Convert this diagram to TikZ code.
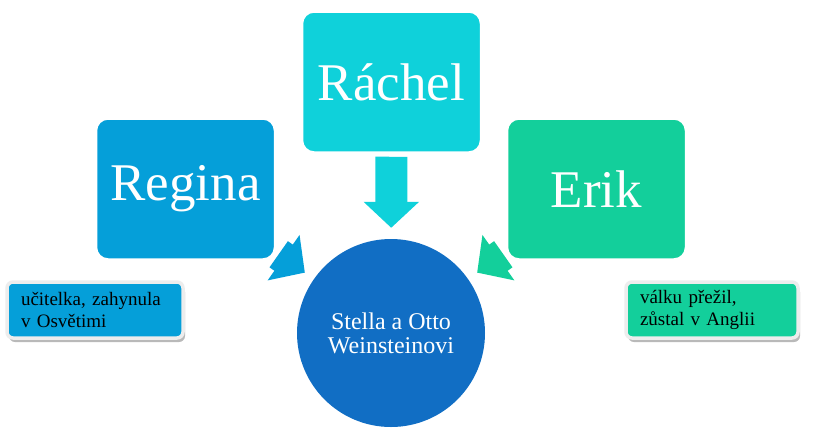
\documentclass[tikz,border=0pt]{standalone}
\usepackage{fontspec}
\setmainfont{Liberation Serif}
\usetikzlibrary{arrows.meta,shadows}
\definecolor{reginacol}{HTML}{059FD9}
\definecolor{rachelcol}{HTML}{0FD1DA}
\definecolor{erikcol}{HTML}{13CF9B}
\definecolor{stellacol}{HTML}{116EC4}
\pgfdeclarelayer{background}
\pgfsetlayers{background,main}
\tikzset {
  namebox/.style={rectangle, rounded corners=12pt, draw=white, line width=2.5pt,
    minimum width=179pt, minimum height=141pt, text=white,
    font=\fontsize{53}{53}\selectfont},
  notebox/.style={rectangle, rounded corners=6pt, draw=black!7, line width=3.5pt,
    minimum height=56pt, inner xsep=14pt, inner ysep=0pt, align=left,
    font=\fontsize{19}{22}\selectfont,
    drop shadow={shadow xshift=2pt, shadow yshift=-4pt, fill=gray!55, opacity=1}},
  blockarrow/.style={line width=32pt, -{Triangle[width=54pt,length=26pt]},
    shorten >=11pt, shorten <=3pt},
}

\begin{document}
\begin{tikzpicture}[x=1pt,y=-1pt]
  \useasboundingbox (0,0) rectangle (833,429);

  % the three children
  \node[namebox, fill=reginacol] (regina) at (185.5,189) {Regina};
  \node[namebox, fill=rachelcol] (rachel) at (391.5,82) {Ráchel};
  \node[namebox, fill=erikcol] (erik) at (596.5,189) {Erik};

  % parents
  \node[circle, fill=stellacol, minimum size=188pt, inner sep=0pt, text=white,
    align=center, font=\fontsize{24}{24}\selectfont] (stella) at (391,333)
    {Stella a Otto\\Weinsteinovi};

  % notes
  \node[notebox, fill=reginacol, text width=148pt] (reginanote) at (95,310)
    {učitelka, zahynula\\v Osvětimi};
  \node[notebox, fill=erikcol, text width=144pt] (eriknote) at (712,310)
    {válku přežil,\\zůstal v Anglii};

  \begin{pgfonlayer}{background}
    \draw[blockarrow, reginacol] (regina) -- (stella);
    \draw[blockarrow, erikcol] (erik) -- (stella);
    \draw[blockarrow, rachelcol] (rachel) -- (stella);
  \end{pgfonlayer}
\end{tikzpicture}
\end{document}
